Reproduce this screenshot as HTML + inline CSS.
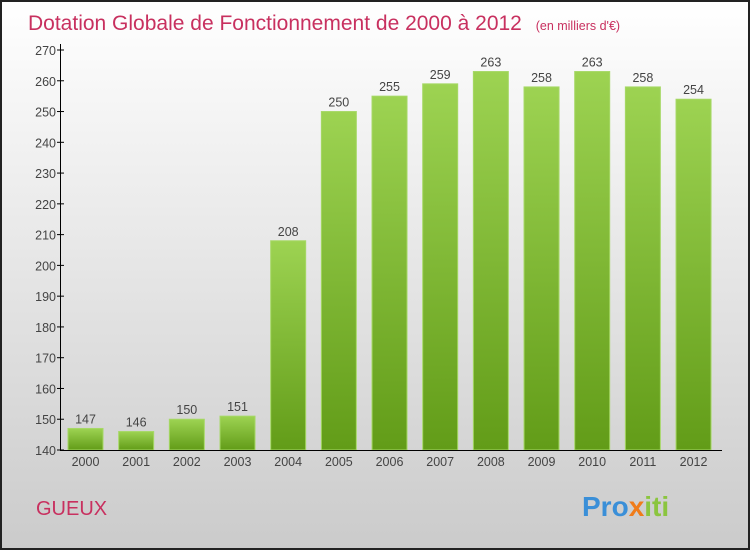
<!DOCTYPE html>
<html><head><meta charset="utf-8"><style>
html,body{margin:0;padding:0}
body{width:750px;height:550px;overflow:hidden;font-family:"Liberation Sans",sans-serif}
</style></head><body>
<svg width="750" height="550" xmlns="http://www.w3.org/2000/svg">
<defs>
<linearGradient id="bg" x1="0" y1="0" x2="0" y2="1"><stop offset="0" stop-color="#ffffff"/><stop offset="1" stop-color="#cbcbcb"/></linearGradient>
<linearGradient id="bar" x1="0" y1="0" x2="0" y2="1"><stop offset="0" stop-color="#9dd352"/><stop offset="1" stop-color="#629c18"/></linearGradient>
</defs>
<rect x="1" y="1" width="748" height="548" fill="url(#bg)" stroke="#222" stroke-width="2"/>
<text x="28" y="30" font-size="21" fill="#c8305f">Dotation Globale de Fonctionnement de 2000 à 2012 <tspan font-size="12.5" dx="8">(en milliers d'€)</tspan></text>
<text x="36" y="515" font-size="20" fill="#c8305f">GUEUX</text>
<text x="582" y="516" font-size="28" font-weight="bold" fill="#3a8fd8">Pro<tspan fill="#f07c1a">x</tspan><tspan fill="#8bc53f">iti</tspan></text>
<g id="ticks"></g>
<g id="bars"></g>
<line x1="60.5" y1="44" x2="60.5" y2="450.5" stroke="#000"/>
<line x1="60" y1="450.5" x2="722" y2="450.5" stroke="#000"/>
</svg>
<script>
const years=["2000","2001","2002","2003","2004","2005","2006","2007","2008","2009","2010","2011","2012"];
const values=[147,146,150,151,208,250,255,259,263,258,263,258,254];
const yTicks=[140,150,160,170,180,190,200,210,220,230,240,250,260,270];
const ns="http://www.w3.org/2000/svg";
const y=v=>450-(v-140)*400/130;
const x=i=>85.5+i*50.67;
const tg=document.getElementById('ticks'),bg=document.getElementById('bars');
function mk(t,a,p){const e=document.createElementNS(ns,t);for(const k in a)e.setAttribute(k,a[k]);p.appendChild(e);return e;}
yTicks.forEach(v=>{
 const l=mk('line',{x1:57,x2:64,y1:y(v),y2:y(v),stroke:'#000'},tg);
 
 
 const t=mk('text',{x:56,y:y(v)+5,'text-anchor':'end','font-size':12.5,fill:'#444'},tg);
 t.textContent=v;
 
 
});
years.forEach((yr,i)=>{
 const v=values[i];
 const r=mk('rect',{x:x(i)-17.5,y:y(v),width:35,height:450-y(v),fill:'url(#bar)',stroke:'#a6d866','stroke-width':1},bg);
 
 
 const t=mk('text',{x:x(i),y:y(v)-5,'text-anchor':'middle','font-size':12.5,fill:'#444'},bg);
 t.textContent=v;
 
 
 const xl=mk('text',{x:x(i),y:466,'text-anchor':'middle','font-size':12.5,fill:'#444'},bg);
 xl.textContent=yr;
 
 
});
</script>
</body></html>
